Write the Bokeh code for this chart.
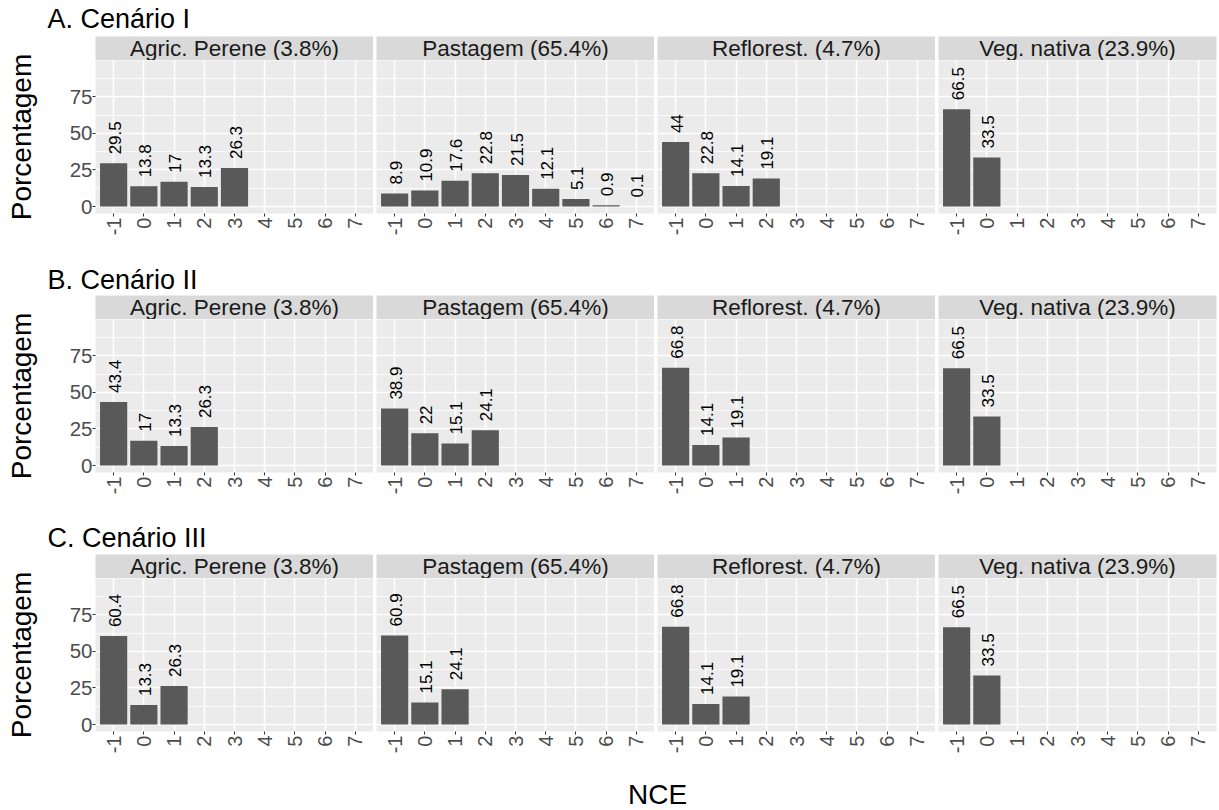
import math
from bokeh.plotting import figure
from bokeh.layouts import column, row
from bokeh.models import Range1d, FixedTicker, ColumnDataSource
from bokeh.core.properties import value
from bokeh.embed import file_html
from bokeh.resources import INLINE

FONT = "Liberation Sans"

# ---------------- data ----------------
nce = [-1, 0, 1, 2, 3, 4, 5, 6, 7]
uses = ["Agric. Perene (3.8%)", "Pastagem (65.4%)", "Reflorest. (4.7%)", "Veg. nativa (23.9%)"]
scenarios = ["A. Cenário I", "B. Cenário II", "C. Cenário III"]

# Cenário I  (values for NCE = -1, 0, 1, ...)
s1_agric = [29.5, 13.8, 17, 13.3, 26.3]
s1_past = [8.9, 10.9, 17.6, 22.8, 21.5, 12.1, 5.1, 0.9, 0.1]
s1_refl = [44, 22.8, 14.1, 19.1]
s1_veg = [66.5, 33.5]
# Cenário II
s2_agric = [43.4, 17, 13.3, 26.3]
s2_past = [38.9, 22, 15.1, 24.1]
s2_refl = [66.8, 14.1, 19.1]
s2_veg = [66.5, 33.5]
# Cenário III
s3_agric = [60.4, 13.3, 26.3]
s3_past = [60.9, 15.1, 24.1]
s3_refl = [66.8, 14.1, 19.1]
s3_veg = [66.5, 33.5]

y_ticks = [0, 25, 50, 75]
y_minor = [12.5, 37.5, 62.5, 87.5]

data = [
    [s1_agric, s1_past, s1_refl, s1_veg],
    [s2_agric, s2_past, s2_refl, s2_veg],
    [s3_agric, s3_past, s3_refl, s3_veg],
]

# ---------------- layout constants ----------------
W = 1219
LABW = 60          # width of the y-title column
LEFT = 35          # border left of first panel (tick labels)
GAP = 3
FW = 278
PANEL_H = 153
STRIP_H = 24
BOTTOM = 46
TITLE_H = [36, 36, 36]
TITLE_YC = [18.5, 20.5, 19.5]
XLAB_H = 33

BG = "#EBEBEB"
STRIP = "#D9D9D9"
BAR = "#595959"


def fmt(v):
    return "%g" % v


def blank(width, height):
    p = figure(width=width, height=height, x_range=Range1d(0, width), y_range=Range1d(0, height),
               output_backend="svg", toolbar_location=None,
               x_axis_location=None, y_axis_location=None, min_border=0)
    p.grid.visible = False
    p.outline_line_color = None
    p.background_fill_color = "white"
    p.border_fill_color = "white"
    return p


def title_fig(text, h, yc):
    p = blank(W, h)
    p.text(x=[47], y=[h - yc], text=[text], text_font=value(FONT),
           text_font_size="27px", text_align="left", text_baseline="middle",
           text_color="black")
    return p


def ylab_fig():
    h = STRIP_H + PANEL_H + BOTTOM
    p = blank(LABW, h)
    p.text(x=[21], y=[h - (STRIP_H + PANEL_H / 2)], text=["Porcentagem"], angle=math.pi / 2,
           text_font=value(FONT), text_font_size="28px", text_align="center",
           text_baseline="middle", text_color="black")
    return p


def strip_fig(label, col):
    lb = LEFT if col == 0 else GAP
    rb = GAP if col == 3 else 0
    p = figure(frame_width=FW, frame_height=STRIP_H, x_range=Range1d(0, 1), y_range=Range1d(0, 1),
               output_backend="svg", toolbar_location=None,
               x_axis_location=None, y_axis_location=None,
               min_border_left=lb, min_border_right=rb, min_border_top=0, min_border_bottom=0)
    p.grid.visible = False
    p.outline_line_color = None
    p.background_fill_color = STRIP
    p.border_fill_color = "white"
    p.text(x=[0.5], y=[0.5], text=[label], text_font=value(FONT), text_font_size="22.5px",
           text_align="center", text_baseline="middle", text_color="#1A1A1A")
    return p


def panel_fig(vals, col):
    lb = LEFT if col == 0 else GAP
    rb = GAP if col == 3 else 0
    p = figure(frame_width=FW, frame_height=PANEL_H,
               x_range=Range1d(-1.6, 7.6), y_range=Range1d(-4.75, 99.75),
               output_backend="svg", toolbar_location=None,
               y_axis_location="left" if col == 0 else None,
               min_border_left=lb, min_border_right=rb, min_border_top=0, min_border_bottom=BOTTOM)
    p.outline_line_color = None
    p.background_fill_color = BG
    p.border_fill_color = "white"

    # grids
    p.xgrid.ticker = FixedTicker(ticks=nce)
    p.ygrid.ticker = FixedTicker(ticks=y_ticks, minor_ticks=y_minor)
    p.xgrid.grid_line_color = "white"
    p.xgrid.grid_line_width = 1.6
    p.ygrid.grid_line_color = "white"
    p.ygrid.grid_line_width = 1.6
    p.ygrid.minor_grid_line_color = "white"
    p.ygrid.minor_grid_line_width = 0.8

    # x axis
    xa = p.xaxis[0]
    xa.ticker = FixedTicker(ticks=nce)
    xa.major_label_overrides = {v: str(v) for v in nce}
    xa.major_label_orientation = math.pi / 2
    xa.axis_line_color = None
    xa.major_tick_line_color = "#333333"
    xa.major_tick_out = 3
    xa.major_tick_in = 0
    xa.minor_tick_line_color = None
    xa.major_label_standoff = 1
    xa.major_label_text_font = FONT
    xa.major_label_text_font_size = "20px"
    xa.major_label_text_color = "#4D4D4D"

    if col == 0:
        ya = p.yaxis[0]
        ya.ticker = FixedTicker(ticks=y_ticks)
        ya.axis_line_color = None
        ya.major_tick_line_color = "#333333"
        ya.major_tick_out = 3
        ya.major_tick_in = 0
        ya.minor_tick_line_color = None
        ya.major_label_standoff = 0
        ya.major_label_text_font = FONT
        ya.major_label_text_font_size = "20.5px"
        ya.major_label_text_color = "#4D4D4D"

    xs = nce[:len(vals)]
    src = ColumnDataSource(dict(x=xs, top=vals, lab=[fmt(v) for v in vals]))
    p.vbar(x="x", top="top", bottom=0, width=0.9, source=src,
           fill_color=BAR, line_color=None)
    p.text(x="x", y="top", text="lab", source=src, angle=math.pi / 2,
           text_align="left", text_baseline="middle", y_offset=-9, x_offset=1,
           text_font=value(FONT), text_font_size="17px", text_color="black")
    return p


items = []
for r in range(3):
    items.append(title_fig(scenarios[r], TITLE_H[r], TITLE_YC[r]))
    block = column(
        row([strip_fig(uses[c], c) for c in range(4)], spacing=0),
        row([panel_fig(data[r][c], c) for c in range(4)], spacing=0),
        spacing=0,
    )
    items.append(row(ylab_fig(), block, spacing=0))

xl = blank(W, XLAB_H)
xl.text(x=[657], y=[XLAB_H - 17], text=["NCE"], text_font=value(FONT), text_font_size="28px",
        text_align="center", text_baseline="middle", text_color="black")
items.append(xl)

layout = column(items, spacing=0)

open("out.html", "w").write(file_html(layout, INLINE))
